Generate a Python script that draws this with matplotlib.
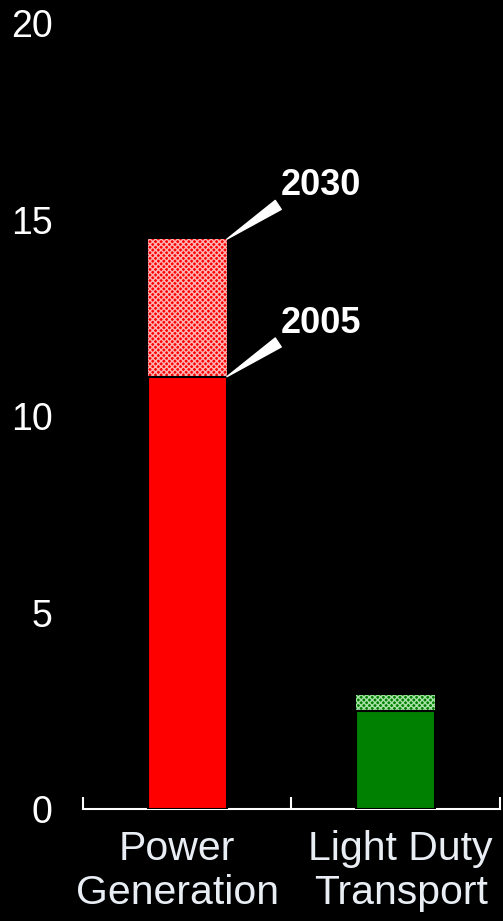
import matplotlib.pyplot as plt
import matplotlib.ticker as ticker
from matplotlib.transforms import ScaledTranslation

plt.rcParams["font.family"] = ["Liberation Sans", "DejaVu Sans"]
plt.rcParams["hatch.linewidth"] = 1.0

sectors = ["Power\nGeneration", "Light Duty\nTransport"]
base_2005 = [11.0, 2.5]
total_2030 = [14.5, 2.9]
solid_colors = ["#ff0000", "#008000"]
hatch_colors = ["#ffb4b4", "#a8e0a8"]
year_labels = ["2005", "2030"]

fig = plt.figure(figsize=(5.03, 9.21), dpi=100, facecolor="black")
ax = fig.add_axes([0.165, 0.1216, 0.829, 0.8534], facecolor="black")

x = range(len(sectors))
width = 0.38
growth = [t - b for t, b in zip(total_2030, base_2005)]

# 2030 increment, drawn as a dithered (hatched) block on top of the 2005 bar
ax.bar(x, growth, width, bottom=base_2005, color=solid_colors,
       edgecolor=hatch_colors, hatch="xxxxxx", linewidth=0, zorder=2)
ax.bar(x, base_2005, width, color=solid_colors, edgecolor="black",
       linewidth=1.5, zorder=3)

ax.set_xlim(-0.5, 1.5)
ax.set_ylim(0, 20)
ax.yaxis.set_major_locator(ticker.MultipleLocator(5))
ax.tick_params(axis="y", length=0, pad=22, labelsize=27, labelcolor="white")

for side in ("left", "right", "top"):
    ax.spines[side].set_visible(False)
ax.spines["bottom"].set_color("white")
ax.spines["bottom"].set_linewidth(1.5)

# category separators on the baseline, labels under each bar
ax.set_xticks([-0.5, 0.5, 1.5])
ax.set_xticks(list(x), minor=True)
ax.set_xticklabels([])
ax.set_xticklabels(sectors, minor=True)
ax.tick_params(axis="x", which="major", direction="in", length=9,
               width=1.5, color="white")
ax.tick_params(axis="x", which="minor", length=0, pad=15, labelsize=29.5,
               labelcolor="#e8eef4")
# nudge the labels so the long words stay inside the figure
for lab, dx in zip(ax.get_xticklabels(minor=True), [-10, 5]):
    lab.set_linespacing(1.22)
    lab.set_transform(lab.get_transform()
                      + ScaledTranslation(dx / 100, 0, fig.dpi_scale_trans))

# callouts pointing at the top of each Power Generation segment
for year, level in zip(year_labels, [base_2005[0], total_2030[0]]):
    ax.annotate(year, xy=(0 + width / 2, level), xytext=(39, 26),
                textcoords="offset points", color="white", fontsize=26,
                fontweight="bold", ha="left", va="bottom",
                arrowprops=dict(arrowstyle="wedge,tail_width=0.3",
                                color="white", relpos=(0, 0),
                                shrinkA=0, shrinkB=0))

fig.savefig("out.png", dpi=100, facecolor="black")
